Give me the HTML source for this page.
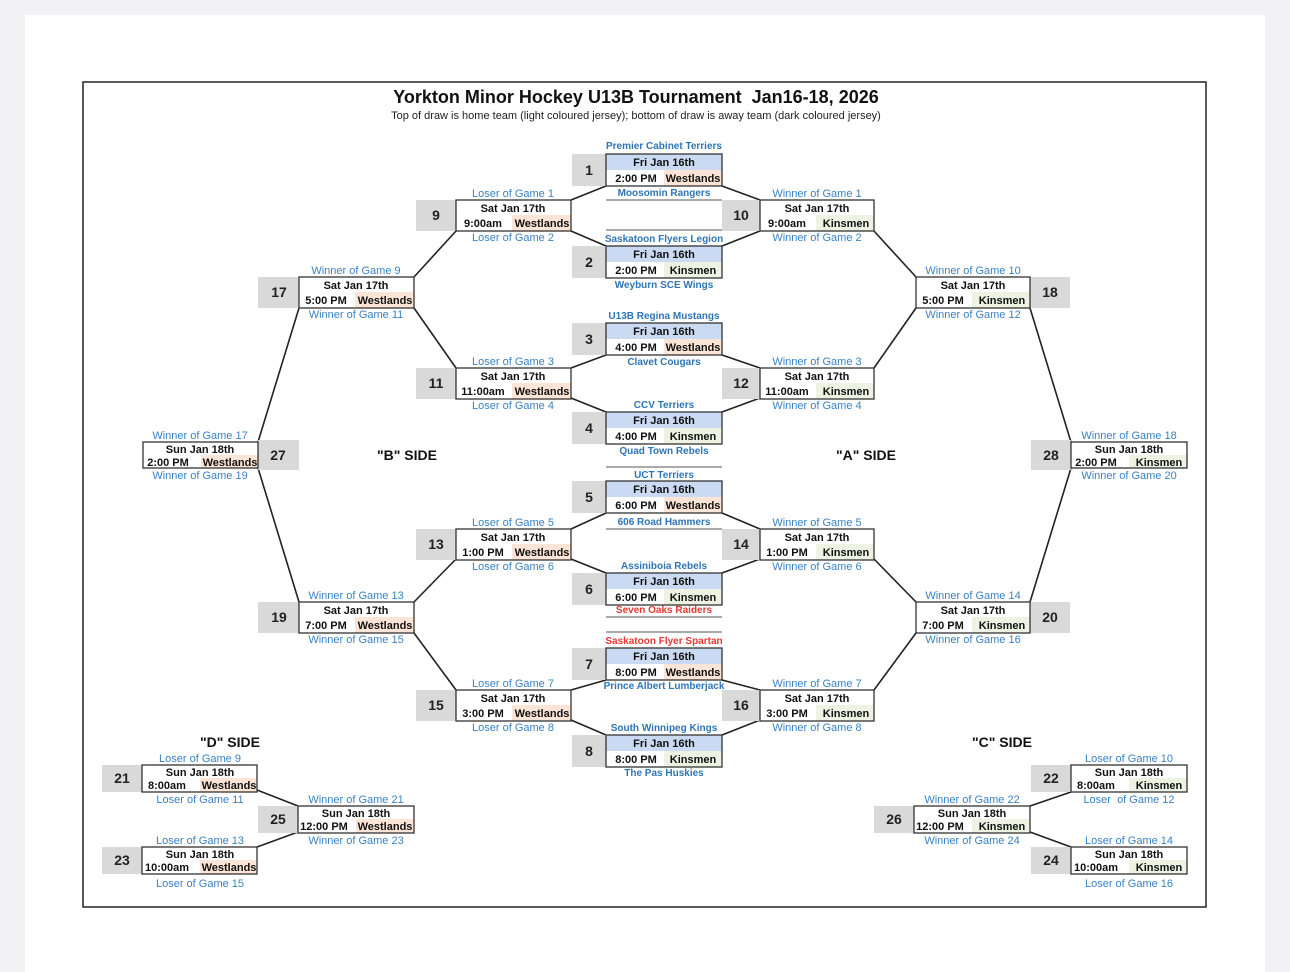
<!DOCTYPE html>
<html><head><meta charset="utf-8"><style>
html,body{margin:0;padding:0;background:#f2f2f5;}
svg{display:block}
text{font-family:"Liberation Sans",Arial,sans-serif;}
.d{font-size:11px;font-weight:bold;text-anchor:middle;fill:#111}
.n{font-size:14px;font-weight:bold;text-anchor:middle;fill:#222}
.l{font-size:11px;text-anchor:middle;fill:#3a82c4}
.t{font-size:10px;font-weight:bold;text-anchor:middle;fill:#2e75b6}
.r{font-size:10px;font-weight:bold;text-anchor:middle;fill:#e53935}
.s{font-size:14px;font-weight:bold;text-anchor:middle;fill:#111}
.nb{fill:#d9d9d9}
.bx{fill:none;stroke:#333;stroke-width:1.3}
.w{fill:#fce4d6}.k{fill:#edf2e2}.b{fill:#c9daf2}
.ln{stroke:#222;stroke-width:1.6;fill:none}
.g{stroke:#777;stroke-width:1.2}
</style></head><body>
<svg width="1290" height="972" viewBox="0 0 1290 972" xmlns="http://www.w3.org/2000/svg">
<rect x="25" y="15" width="1240" height="970" fill="#fff"/>
<rect x="83" y="82" width="1123" height="825" fill="none" stroke="#222" stroke-width="1.5"/>
<text x="636" y="103" style="font-size:18px;font-weight:bold;text-anchor:middle;fill:#111">Yorkton Minor Hockey U13B Tournament&#160; Jan16-18, 2026</text>
<text x="636" y="119" style="font-size:11px;text-anchor:middle;fill:#222">Top of draw is home team (light coloured jersey); bottom of draw is away team (dark coloured jersey)</text>

<g class="ln">
<path d="M571,200 L606,186 M571,231 L606,246 M722,186 L760,200 M722,246 L760,231"/>
<path d="M571,368 L606,355 M571,398 L606,412 M722,355 L760,368 M722,412 L760,398"/>
<path d="M571,529 L606,513 M571,559 L606,573 M722,513 L760,529 M722,573 L760,559"/>
<path d="M571,690 L606,680 M571,720 L606,735 M722,680 L760,690 M722,735 L760,720"/>
<path d="M456,231 L414,277 M456,368 L414,308 M456,559 L414,602 M456,690 L414,633"/>
<path d="M874,231 L916,277 M874,368 L916,308 M874,559 L916,602 M874,690 L916,633"/>
<path d="M299,308 L258,442 M299,602 L258,468 M1030,308 L1071,442 M1030,602 L1071,468"/>
<path d="M257,790 L298,806 M257,847 L298,832 M1030,806 L1071,792 M1030,832 L1071,847"/>
</g>
<g class="g">
<line x1="606" y1="200" x2="722" y2="200"/><line x1="606" y1="230" x2="722" y2="230"/>
<line x1="606" y1="467" x2="722" y2="467"/><line x1="606" y1="529" x2="722" y2="529"/>
<line x1="606" y1="617" x2="722" y2="617"/><line x1="606" y1="632" x2="722" y2="632"/>
</g>

<g transform="translate(606,154)"><rect class="nb" x="-34" y="0" width="34" height="32"/><rect class="b" width="116" height="16"/><rect class="w" x="58" y="16" width="58" height="16"/><rect class="bx" width="116" height="32"/><text class="n" x="-17" y="21">1</text><text class="d" x="58" y="12">Fri Jan 16th</text><text class="d" x="30" y="28">2:00 PM</text><text class="d" x="87" y="28">Westlands</text><text class="t" x="58" y="-5">Premier Cabinet Terriers</text><text class="t" x="58" y="42">Moosomin Rangers</text></g>
<g transform="translate(606,246)"><rect class="nb" x="-34" y="0" width="34" height="32"/><rect class="b" width="116" height="16"/><rect class="k" x="58" y="16" width="58" height="16"/><rect class="bx" width="116" height="32"/><text class="n" x="-17" y="21">2</text><text class="d" x="58" y="12">Fri Jan 16th</text><text class="d" x="30" y="28">2:00 PM</text><text class="d" x="87" y="28">Kinsmen</text><text class="t" x="58" y="-4">Saskatoon Flyers Legion</text><text class="t" x="58" y="42">Weyburn SCE Wings</text></g>
<g transform="translate(606,323)"><rect class="nb" x="-34" y="0" width="34" height="32"/><rect class="b" width="116" height="16"/><rect class="w" x="58" y="16" width="58" height="16"/><rect class="bx" width="116" height="32"/><text class="n" x="-17" y="21">3</text><text class="d" x="58" y="12">Fri Jan 16th</text><text class="d" x="30" y="28">4:00 PM</text><text class="d" x="87" y="28">Westlands</text><text class="t" x="58" y="-4">U13B Regina Mustangs</text><text class="t" x="58" y="42">Clavet Cougars</text></g>
<g transform="translate(606,412)"><rect class="nb" x="-34" y="0" width="34" height="32"/><rect class="b" width="116" height="16"/><rect class="k" x="58" y="16" width="58" height="16"/><rect class="bx" width="116" height="32"/><text class="n" x="-17" y="21">4</text><text class="d" x="58" y="12">Fri Jan 16th</text><text class="d" x="30" y="28">4:00 PM</text><text class="d" x="87" y="28">Kinsmen</text><text class="t" x="58" y="-4">CCV Terriers</text><text class="t" x="58" y="42">Quad Town Rebels</text></g>
<g transform="translate(606,481)"><rect class="nb" x="-34" y="0" width="34" height="32"/><rect class="b" width="116" height="16"/><rect class="w" x="58" y="16" width="58" height="16"/><rect class="bx" width="116" height="32"/><text class="n" x="-17" y="21">5</text><text class="d" x="58" y="12">Fri Jan 16th</text><text class="d" x="30" y="28">6:00 PM</text><text class="d" x="87" y="28">Westlands</text><text class="t" x="58" y="-3">UCT Terriers</text><text class="t" x="58" y="44">606 Road Hammers</text></g>
<g transform="translate(606,573)"><rect class="nb" x="-34" y="0" width="34" height="32"/><rect class="b" width="116" height="16"/><rect class="k" x="58" y="16" width="58" height="16"/><rect class="bx" width="116" height="32"/><text class="n" x="-17" y="21">6</text><text class="d" x="58" y="12">Fri Jan 16th</text><text class="d" x="30" y="28">6:00 PM</text><text class="d" x="87" y="28">Kinsmen</text><text class="t" x="58" y="-4">Assiniboia Rebels</text><text class="r" x="58" y="40">Seven Oaks Raiders</text></g>
<g transform="translate(606,648)"><rect class="nb" x="-34" y="0" width="34" height="32"/><rect class="b" width="116" height="16"/><rect class="w" x="58" y="16" width="58" height="16"/><rect class="bx" width="116" height="32"/><text class="n" x="-17" y="21">7</text><text class="d" x="58" y="12">Fri Jan 16th</text><text class="d" x="30" y="28">8:00 PM</text><text class="d" x="87" y="28">Westlands</text><text class="r" x="58" y="-4">Saskatoon Flyer Spartan</text><text class="t" x="58" y="41">Prince Albert Lumberjack</text></g>
<g transform="translate(606,735)"><rect class="nb" x="-34" y="0" width="34" height="32"/><rect class="b" width="116" height="16"/><rect class="k" x="58" y="16" width="58" height="16"/><rect class="bx" width="116" height="32"/><text class="n" x="-17" y="21">8</text><text class="d" x="58" y="12">Fri Jan 16th</text><text class="d" x="30" y="28">8:00 PM</text><text class="d" x="87" y="28">Kinsmen</text><text class="t" x="58" y="-4">South Winnipeg Kings</text><text class="t" x="58" y="41">The Pas Huskies</text></g>

<g transform="translate(456,200)"><rect class="nb" x="-40" width="40" height="31"/><rect class="w" x="56" y="15" width="59" height="16"/><rect class="bx" width="115" height="31"/><text class="n" x="-20" y="20">9</text><text class="d" x="57" y="12">Sat Jan 17th</text><text class="d" x="27" y="27">9:00am</text><text class="d" x="86" y="27">Westlands</text><text class="l" x="57" y="-3">Loser of Game 1</text><text class="l" x="57" y="41">Loser of Game 2</text></g>
<g transform="translate(456,368)"><rect class="nb" x="-40" width="40" height="31"/><rect class="w" x="56" y="15" width="59" height="16"/><rect class="bx" width="115" height="31"/><text class="n" x="-20" y="20">11</text><text class="d" x="57" y="12">Sat Jan 17th</text><text class="d" x="27" y="27">11:00am</text><text class="d" x="86" y="27">Westlands</text><text class="l" x="57" y="-3">Loser of Game 3</text><text class="l" x="57" y="41">Loser of Game 4</text></g>
<g transform="translate(456,529)"><rect class="nb" x="-40" width="40" height="31"/><rect class="w" x="56" y="15" width="59" height="16"/><rect class="bx" width="115" height="31"/><text class="n" x="-20" y="20">13</text><text class="d" x="57" y="12">Sat Jan 17th</text><text class="d" x="27" y="27">1:00 PM</text><text class="d" x="86" y="27">Westlands</text><text class="l" x="57" y="-3">Loser of Game 5</text><text class="l" x="57" y="41">Loser of Game 6</text></g>
<g transform="translate(456,690)"><rect class="nb" x="-40" width="40" height="31"/><rect class="w" x="56" y="15" width="59" height="16"/><rect class="bx" width="115" height="31"/><text class="n" x="-20" y="20">15</text><text class="d" x="57" y="12">Sat Jan 17th</text><text class="d" x="27" y="27">3:00 PM</text><text class="d" x="86" y="27">Westlands</text><text class="l" x="57" y="-3">Loser of Game 7</text><text class="l" x="57" y="41">Loser of Game 8</text></g>

<g transform="translate(760,200)"><rect class="nb" x="-38" width="38" height="31"/><rect class="k" x="56" y="15" width="58" height="16"/><rect class="bx" width="114" height="31"/><text class="n" x="-19" y="20">10</text><text class="d" x="57" y="12">Sat Jan 17th</text><text class="d" x="27" y="27">9:00am</text><text class="d" x="86" y="27">Kinsmen</text><text class="l" x="57" y="-3">Winner of Game 1</text><text class="l" x="57" y="41">Winner of Game 2</text></g>
<g transform="translate(760,368)"><rect class="nb" x="-38" width="38" height="31"/><rect class="k" x="56" y="15" width="58" height="16"/><rect class="bx" width="114" height="31"/><text class="n" x="-19" y="20">12</text><text class="d" x="57" y="12">Sat Jan 17th</text><text class="d" x="27" y="27">11:00am</text><text class="d" x="86" y="27">Kinsmen</text><text class="l" x="57" y="-3">Winner of Game 3</text><text class="l" x="57" y="41">Winner of Game 4</text></g>
<g transform="translate(760,529)"><rect class="nb" x="-38" width="38" height="31"/><rect class="k" x="56" y="15" width="58" height="16"/><rect class="bx" width="114" height="31"/><text class="n" x="-19" y="20">14</text><text class="d" x="57" y="12">Sat Jan 17th</text><text class="d" x="27" y="27">1:00 PM</text><text class="d" x="86" y="27">Kinsmen</text><text class="l" x="57" y="-3">Winner of Game 5</text><text class="l" x="57" y="41">Winner of Game 6</text></g>
<g transform="translate(760,690)"><rect class="nb" x="-38" width="38" height="31"/><rect class="k" x="56" y="15" width="58" height="16"/><rect class="bx" width="114" height="31"/><text class="n" x="-19" y="20">16</text><text class="d" x="57" y="12">Sat Jan 17th</text><text class="d" x="27" y="27">3:00 PM</text><text class="d" x="86" y="27">Kinsmen</text><text class="l" x="57" y="-3">Winner of Game 7</text><text class="l" x="57" y="41">Winner of Game 8</text></g>

<g transform="translate(299,277)"><rect class="nb" x="-41" width="41" height="31"/><rect class="w" x="56" y="15" width="59" height="16"/><rect class="bx" width="115" height="31"/><text class="n" x="-20" y="20">17</text><text class="d" x="57" y="12">Sat Jan 17th</text><text class="d" x="27" y="27">5:00 PM</text><text class="d" x="86" y="27">Westlands</text><text class="l" x="57" y="-3">Winner of Game 9</text><text class="l" x="57" y="41">Winner of Game 11</text></g>
<g transform="translate(299,602)"><rect class="nb" x="-41" width="41" height="31"/><rect class="w" x="56" y="15" width="59" height="16"/><rect class="bx" width="115" height="31"/><text class="n" x="-20" y="20">19</text><text class="d" x="57" y="12">Sat Jan 17th</text><text class="d" x="27" y="27">7:00 PM</text><text class="d" x="86" y="27">Westlands</text><text class="l" x="57" y="-3">Winner of Game 13</text><text class="l" x="57" y="41">Winner of Game 15</text></g>
<g transform="translate(916,277)"><rect class="nb" x="114" width="40" height="31"/><rect class="k" x="56" y="15" width="58" height="16"/><rect class="bx" width="114" height="31"/><text class="n" x="134" y="20">18</text><text class="d" x="57" y="12">Sat Jan 17th</text><text class="d" x="27" y="27">5:00 PM</text><text class="d" x="86" y="27">Kinsmen</text><text class="l" x="57" y="-3">Winner of Game 10</text><text class="l" x="57" y="41">Winner of Game 12</text></g>
<g transform="translate(916,602)"><rect class="nb" x="114" width="40" height="31"/><rect class="k" x="56" y="15" width="58" height="16"/><rect class="bx" width="114" height="31"/><text class="n" x="134" y="20">20</text><text class="d" x="57" y="12">Sat Jan 17th</text><text class="d" x="27" y="27">7:00 PM</text><text class="d" x="86" y="27">Kinsmen</text><text class="l" x="57" y="-3">Winner of Game 14</text><text class="l" x="57" y="41">Winner of Game 16</text></g>

<g transform="translate(143,442)"><rect class="nb" x="115" y="-2" width="41" height="30"/><rect class="w" x="58" y="13" width="57" height="13"/><rect class="bx" width="115" height="26"/><text class="n" x="135" y="18">27</text><text class="d" x="57" y="11">Sun Jan 18th</text><text class="d" x="25" y="24">2:00 PM</text><text class="d" x="87" y="24">Westlands</text><text class="l" x="57" y="-3">Winner of Game 17</text><text class="l" x="57" y="37">Winner of Game 19</text></g>
<g transform="translate(1071,442)"><rect class="nb" x="-40" y="-2" width="40" height="30"/><rect class="k" x="58" y="13" width="58" height="13"/><rect class="bx" width="116" height="26"/><text class="n" x="-20" y="18">28</text><text class="d" x="58" y="11">Sun Jan 18th</text><text class="d" x="25" y="24">2:00 PM</text><text class="d" x="88" y="24">Kinsmen</text><text class="l" x="58" y="-3">Winner of Game 18</text><text class="l" x="58" y="37">Winner of Game 20</text></g>

<g transform="translate(142,765)"><rect class="nb" x="-40" width="40" height="27"/><rect class="w" x="58" y="13" width="57" height="14"/><rect class="bx" width="115" height="27"/><text class="n" x="-20" y="18">21</text><text class="d" x="58" y="11">Sun Jan 18th</text><text class="d" x="25" y="24">8:00am</text><text class="d" x="87" y="24">Westlands</text><text class="l" x="58" y="-3">Loser of Game 9</text><text class="l" x="58" y="38">Loser of Game 11</text></g>
<g transform="translate(142,847)"><rect class="nb" x="-40" width="40" height="27"/><rect class="w" x="58" y="13" width="57" height="14"/><rect class="bx" width="115" height="27"/><text class="n" x="-20" y="18">23</text><text class="d" x="58" y="11">Sun Jan 18th</text><text class="d" x="25" y="24">10:00am</text><text class="d" x="87" y="24">Westlands</text><text class="l" x="58" y="-3">Loser of Game 13</text><text class="l" x="58" y="40">Loser of Game 15</text></g>
<g transform="translate(298,806)"><rect class="nb" x="-40" width="40" height="27"/><rect class="w" x="58" y="13" width="58" height="14"/><rect class="bx" width="116" height="27"/><text class="n" x="-20" y="18">25</text><text class="d" x="58" y="11">Sun Jan 18th</text><text class="d" x="26" y="24">12:00 PM</text><text class="d" x="87" y="24">Westlands</text><text class="l" x="58" y="-3">Winner of Game 21</text><text class="l" x="58" y="38">Winner of Game 23</text></g>

<g transform="translate(1071,765)"><rect class="nb" x="-40" width="40" height="27"/><rect class="k" x="58" y="13" width="58" height="14"/><rect class="bx" width="116" height="27"/><text class="n" x="-20" y="18">22</text><text class="d" x="58" y="11">Sun Jan 18th</text><text class="d" x="25" y="24">8:00am</text><text class="d" x="88" y="24">Kinsmen</text><text class="l" x="58" y="-3">Loser of Game 10</text><text class="l" x="58" y="38">Loser&#160; of Game 12</text></g>
<g transform="translate(1071,847)"><rect class="nb" x="-40" width="40" height="27"/><rect class="k" x="58" y="13" width="58" height="14"/><rect class="bx" width="116" height="27"/><text class="n" x="-20" y="18">24</text><text class="d" x="58" y="11">Sun Jan 18th</text><text class="d" x="25" y="24">10:00am</text><text class="d" x="88" y="24">Kinsmen</text><text class="l" x="58" y="-3">Loser of Game 14</text><text class="l" x="58" y="40">Loser of Game 16</text></g>
<g transform="translate(914,806)"><rect class="nb" x="-40" width="40" height="27"/><rect class="k" x="58" y="13" width="58" height="14"/><rect class="bx" width="116" height="27"/><text class="n" x="-20" y="18">26</text><text class="d" x="58" y="11">Sun Jan 18th</text><text class="d" x="26" y="24">12:00 PM</text><text class="d" x="88" y="24">Kinsmen</text><text class="l" x="58" y="-3">Winner of Game 22</text><text class="l" x="58" y="38">Winner of Game 24</text></g>

<text class="s" x="407" y="460">"B" SIDE</text>
<text class="s" x="866" y="460">"A" SIDE</text>
<text class="s" x="230" y="747">"D" SIDE</text>
<text class="s" x="1002" y="747">"C" SIDE</text>
</svg>
</body></html>
